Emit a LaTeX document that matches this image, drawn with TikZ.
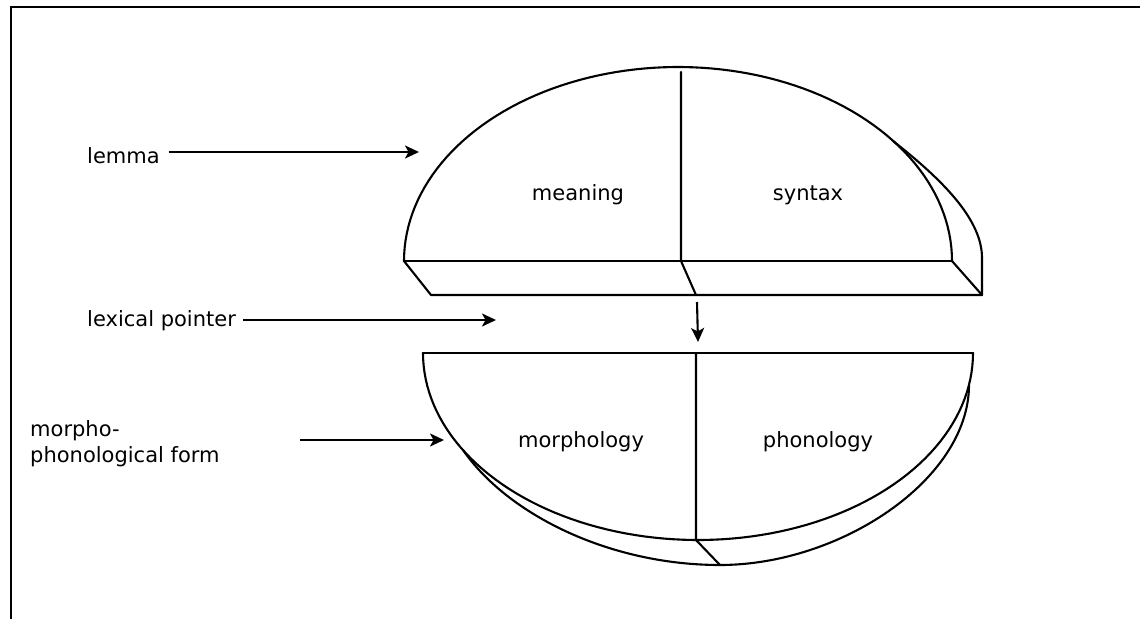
\documentclass[tikz,border=0pt]{standalone}
\usepackage{fontspec}
\setmainfont{DejaVu Sans}
\usetikzlibrary{arrows.meta}
\begin{document}
\begin{tikzpicture}[x=1pt,y=-1pt,
  edge/.style={line width=2.1pt, line join=round, line cap=round},
  arr/.style={line width=2.1pt, -{Stealth[length=14pt,width=13pt,inset=3.5pt]}},
  lbl/.style={font=\fontsize{21}{26}\selectfont, inner sep=0pt},
]
\useasboundingbox (0,0) rectangle (1140,619);

% open frame: left and top rules
\draw[line width=1.6pt] (11,619) -- (11,7) -- (1140,7);

% ---- upper half-disc (lemma) ----
\coordinate (uL) at (404,261);
\coordinate (uR) at (952,261);
\coordinate (uM) at (681,261);
\coordinate (uBL) at (431,295);
\coordinate (uBR) at (982,295);
\coordinate (uBM) at (696,295);
\draw[edge] plot[domain=180:0, samples=90] ({678+274*cos(\x)},{261-194*sin(\x)});
\draw[edge] (uL) -- (uR);
\draw[edge] (uL) -- (uBL) -- (uBR) -- (uR);
\draw[edge] (681,72) -- (uM) -- (uBM);
% rear rim seen past the right edge
\draw[edge] (893,141) .. controls (948,184) and (982,222) .. (982,258) -- (uBR);

\node[lbl] (meaning) at (578,195) {meaning};
\node[lbl] (syntax) at (808,195) {syntax};

% ---- lower half-disc (form) ----
\coordinate (lL) at (423,353);
\coordinate (lR) at (973,353);
\coordinate (lM) at (696,353);
\coordinate (lB) at (696,540);
\coordinate (lBB) at (720,565);
\draw[edge] (lL) -- (lR);
\draw[edge] plot[domain=180:360, samples=90] ({698+275*cos(\x)},{353-187*sin(\x)});
\draw[edge] (lM) -- (lB) -- (lBB);
% rear rim below the front edge
\draw[edge] (463,450) .. controls (508,515) and (610,565) .. (lBB)
  .. controls (840,565) and (968,480) .. (969,386);

\node[lbl] (morph) at (581,442) {morphology};
\node[lbl] (phon) at (818,442) {phonology};

% ---- side labels and pointers ----
\node[lbl, anchor=base west] (lemma) at (87,163) {lemma};
\node[lbl, anchor=base west] (pointer) at (87,326) {lexical pointer};
\node[lbl, anchor=west, align=left] (form) at (30,444) {morpho-\\phonological form};

\coordinate (lemmaTip) at (419,152);
\coordinate (pointerTip) at (496,320);
\coordinate (formTip) at (444,440);
\coordinate (linkTop) at (697,302);
\coordinate (linkTip) at (698,342);

\draw[arr, shorten <=9pt] (lemma.east |- lemmaTip) -- (lemmaTip);
\draw[arr, shorten <=7pt] (pointer.east |- pointerTip) -- (pointerTip);
\draw[arr, shorten <=80pt] (form.east |- formTip) -- (formTip);
\draw[arr] (linkTop) -- (linkTip);
\end{tikzpicture}
\end{document}
